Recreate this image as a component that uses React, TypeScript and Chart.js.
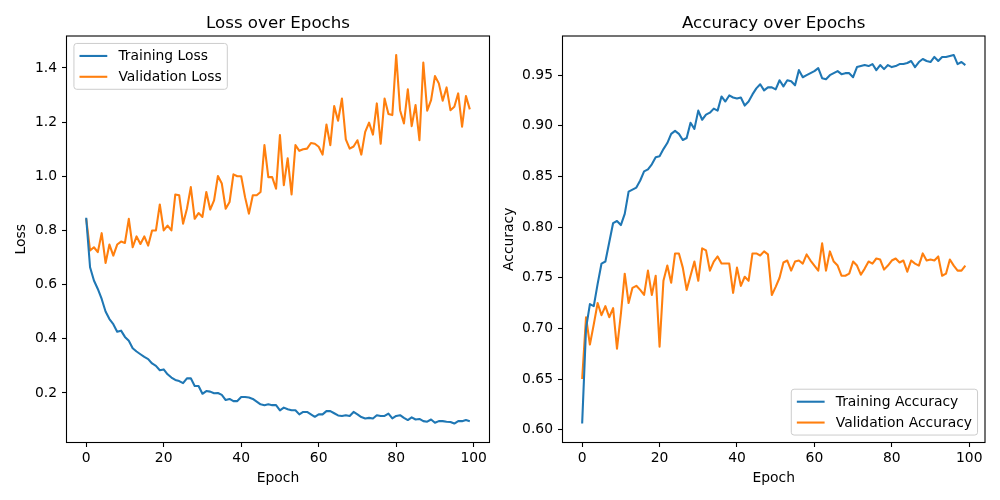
import React, { useEffect, useRef } from "react";
import { Chart, registerables } from "chart.js";

Chart.register(...registerables);

// ---------------- data ----------------
const epochs: number[] = Array.from({ length: 100 }, (_, i) => i);

const trainLoss: number[] = [
  0.847, 0.664, 0.615, 0.584, 0.547, 0.501, 0.473, 0.454, 0.426, 0.430,
  0.407, 0.393, 0.365, 0.353, 0.343, 0.333, 0.325, 0.309, 0.300, 0.284,
  0.287, 0.269, 0.257, 0.248, 0.244, 0.236, 0.254, 0.254, 0.226, 0.226,
  0.197, 0.207, 0.205, 0.199, 0.200, 0.193, 0.174, 0.178, 0.170, 0.170,
  0.185, 0.185, 0.183, 0.178, 0.168, 0.158, 0.155, 0.158, 0.155, 0.155,
  0.136, 0.146, 0.140, 0.136, 0.136, 0.121, 0.130, 0.130, 0.121, 0.112,
  0.121, 0.121, 0.133, 0.133, 0.125, 0.117, 0.115, 0.118, 0.115, 0.130,
  0.121, 0.111, 0.106, 0.108, 0.106, 0.118, 0.115, 0.115, 0.124, 0.106,
  0.115, 0.118, 0.108, 0.100, 0.110, 0.102, 0.104, 0.096, 0.094, 0.102,
  0.090, 0.096, 0.096, 0.094, 0.093, 0.087, 0.096, 0.096, 0.100, 0.096,
];

const valLoss: number[] = [
  0.844, 0.726, 0.738, 0.720, 0.790, 0.680, 0.748, 0.707, 0.748, 0.759,
  0.754, 0.843, 0.738, 0.778, 0.750, 0.778, 0.744, 0.800, 0.800, 0.896,
  0.800, 0.818, 0.800, 0.933, 0.930, 0.825, 0.880, 0.960, 0.843, 0.864,
  0.850, 0.942, 0.877, 0.911, 1.001, 0.973, 0.880, 0.905, 1.007, 1.000,
  1.000, 0.923, 0.862, 0.930, 0.930, 0.942, 1.115, 0.997, 0.997, 0.954,
  1.152, 0.967, 1.066, 0.933, 1.115, 1.094, 1.100, 1.102, 1.123, 1.120,
  1.109, 1.080, 1.191, 1.115, 1.259, 1.205, 1.287, 1.136, 1.102, 1.110,
  1.133, 1.080, 1.164, 1.198, 1.154, 1.269, 1.120, 1.287, 1.230, 1.226,
  1.448, 1.244, 1.195, 1.321, 1.185, 1.263, 1.133, 1.420, 1.242, 1.281,
  1.370, 1.343, 1.279, 1.328, 1.244, 1.257, 1.306, 1.183, 1.296, 1.247,
];

const trainAcc: number[] = [
  0.606, 0.700, 0.724, 0.722, 0.744, 0.764, 0.766, 0.785, 0.804, 0.806,
  0.802, 0.813, 0.835, 0.837, 0.839, 0.846, 0.855, 0.857, 0.862, 0.869,
  0.870, 0.877, 0.883, 0.892, 0.895, 0.892, 0.886, 0.888, 0.903, 0.897,
  0.915, 0.906, 0.911, 0.913, 0.917, 0.915, 0.929, 0.924, 0.930, 0.928,
  0.927, 0.928, 0.920, 0.924, 0.931, 0.937, 0.941, 0.935, 0.938, 0.938,
  0.936, 0.945, 0.939, 0.945, 0.944, 0.940, 0.955, 0.948, 0.950, 0.952,
  0.954, 0.957, 0.947, 0.946, 0.950, 0.952, 0.954, 0.951, 0.952, 0.952,
  0.948, 0.958, 0.959, 0.960, 0.959, 0.961, 0.955, 0.960, 0.956, 0.960,
  0.958, 0.959, 0.961, 0.961, 0.962, 0.964, 0.958, 0.963, 0.966, 0.964,
  0.963, 0.968, 0.964, 0.968, 0.968, 0.969, 0.970, 0.961, 0.963, 0.960,
];

const valAcc: number[] = [
  0.650, 0.711, 0.684, 0.704, 0.725, 0.713, 0.722, 0.711, 0.720, 0.680,
  0.714, 0.754, 0.725, 0.740, 0.742, 0.738, 0.733, 0.757, 0.733, 0.752,
  0.682, 0.747, 0.762, 0.745, 0.774, 0.774, 0.760, 0.738, 0.752, 0.766,
  0.747, 0.779, 0.777, 0.757, 0.766, 0.771, 0.764, 0.764, 0.764, 0.735,
  0.760, 0.742, 0.751, 0.747, 0.774, 0.774, 0.772, 0.776, 0.773, 0.733,
  0.741, 0.750, 0.765, 0.767, 0.757, 0.766, 0.767, 0.764, 0.773, 0.767,
  0.762, 0.757, 0.784, 0.757, 0.776, 0.766, 0.762, 0.752, 0.752, 0.754,
  0.766, 0.762, 0.753, 0.759, 0.766, 0.764, 0.769, 0.768, 0.758, 0.762,
  0.767, 0.769, 0.765, 0.767, 0.756, 0.767, 0.764, 0.762, 0.774, 0.767,
  0.768, 0.767, 0.771, 0.752, 0.754, 0.768, 0.762, 0.757, 0.757, 0.762,
];

const xTicks: number[] = [0, 20, 40, 60, 80, 100];
const lossTicks: number[] = [0.2, 0.4, 0.6, 0.8, 1.0, 1.2, 1.4];
const accTicks: number[] = [0.6, 0.65, 0.7, 0.75, 0.8, 0.85, 0.9, 0.95];

// ---------------- style ----------------
const FONT = "'DejaVu Sans', 'Liberation Sans', sans-serif";
const FS = 13.89;
const BLUE = "#1f77b4";
const ORANGE = "#ff7f0e";

Chart.defaults.font.family = FONT;
Chart.defaults.color = "#000";

function paddedRange(arrs: number[][]): [number, number] {
  let mn = Infinity;
  let mx = -Infinity;
  arrs.forEach((a) => a.forEach((v) => { if (v < mn) mn = v; if (v > mx) mx = v; }));
  const p = (mx - mn) * 0.05;
  return [mn - p, mx + p];
}

const framePlugin = {
  id: "mplFrame",
  afterDatasetsDraw(chart: any) {
    const { ctx, chartArea: a } = chart;
    ctx.save();
    ctx.strokeStyle = "#000";
    ctx.lineWidth = 1.1;
    ctx.strokeRect(a.left - 0.5, a.top - 0.5, a.right - a.left + 1, a.bottom - a.top + 1);
    ctx.restore();
  },
};

const legendPlugin = {
  id: "mplLegend",
  afterDraw(chart: any, _args: any, opts: any) {
    if (!opts || !opts.loc) return;
    const { ctx, chartArea: a } = chart;
    ctx.save();
    ctx.font = `${FS}px ${FONT}`;
    const items = chart.data.datasets.map((d: any) => ({ label: d.label, color: d.borderColor }));
    const textW = Math.max(...items.map((i: any) => ctx.measureText(i.label).width));
    const pad = 0.4 * FS, hl = 2 * FS, htp = 0.8 * FS, ls = 0.5 * FS, bap = 0.5 * FS;
    const rowH = FS;
    const w = 2 * pad + hl + htp + textW;
    const h = 2 * pad + items.length * rowH + (items.length - 1) * ls;
    const x = opts.loc.includes("left") ? a.left + bap : a.right - bap - w;
    const y = opts.loc.includes("upper") ? a.top + bap : a.bottom - bap - h;
    ctx.beginPath();
    if ((ctx as any).roundRect) (ctx as any).roundRect(x, y, w, h, 0.2 * FS);
    else ctx.rect(x, y, w, h);
    ctx.fillStyle = "rgba(255,255,255,0.8)";
    ctx.fill();
    ctx.strokeStyle = "#cccccc";
    ctx.lineWidth = 1;
    ctx.stroke();
    items.forEach((it: any, i: number) => {
      const cy = y + pad + rowH / 2 + i * (rowH + ls);
      ctx.beginPath();
      ctx.moveTo(x + pad, cy);
      ctx.lineTo(x + pad + hl, cy);
      ctx.strokeStyle = it.color;
      ctx.lineWidth = 2.08;
      ctx.stroke();
      ctx.fillStyle = "#000";
      ctx.textBaseline = "middle";
      ctx.textAlign = "left";
      ctx.fillText(it.label, x + pad + hl + htp, cy + 0.5);
    });
    ctx.restore();
  },
};

interface PanelSpec {
  title: string;
  yLabel: string;
  labels: string[];
  series: number[][];
  yTicks: number[];
  decimals: number;
  legendLoc: string;
  yAxisWidth: number;
  yTitlePad: number;
  padRight: number;
}

function makeConfig(s: PanelSpec): any {
  const [ymin, ymax] = paddedRange(s.series);
  const [xmin, xmax] = paddedRange([epochs]);
  const colors = [BLUE, ORANGE];
  const tickFont = { family: FONT, size: FS };
  return {
    type: "line",
    data: {
      datasets: s.series.map((arr, i) => ({
        label: s.labels[i],
        data: arr.map((v, j) => ({ x: epochs[j], y: v })),
        borderColor: colors[i],
        backgroundColor: colors[i],
        borderWidth: 2.08,
        pointRadius: 0,
        pointHoverRadius: 0,
        tension: 0,
        fill: false,
        borderJoinStyle: "round",
      })),
    },
    options: {
      responsive: false,
      animation: false,
      devicePixelRatio: 1,
      events: [],
      layout: { padding: { left: 0, right: s.padRight, top: 0, bottom: 0 } },
      plugins: {
        legend: { display: false },
        tooltip: { enabled: false },
        title: {
          display: true,
          text: s.title,
          fullSize: false,
          color: "#000",
          font: { family: FONT, size: 16.67, weight: "normal", lineHeight: 1.2 },
          padding: { top: 13.5, bottom: 3 },
        },
        mplLegend: { loc: s.legendLoc },
      },
      scales: {
        x: {
          type: "linear",
          min: xmin,
          max: xmax,
          afterBuildTicks: (sc: any) => { sc.ticks = xTicks.map((v) => ({ value: v })); },
          afterFit: (sc: any) => { sc.height = 58; },
          grid: { drawOnChartArea: false, drawTicks: true, tickLength: 5, tickWidth: 1.1, tickColor: "#000", color: "#000" },
          border: { display: false },
          ticks: { color: "#000", font: tickFont, padding: 3.5, maxRotation: 0, autoSkip: false, callback: (v: any) => String(v) },
          title: { display: true, text: "Epoch", color: "#000", font: tickFont, padding: { top: 0, bottom: 13.5 } },
        },
        y: {
          type: "linear",
          min: ymin,
          max: ymax,
          afterBuildTicks: (sc: any) => { sc.ticks = s.yTicks.map((v) => ({ value: v })); },
          afterFit: (sc: any) => { sc.width = s.yAxisWidth; },
          grid: { drawOnChartArea: false, drawTicks: true, tickLength: 5, tickWidth: 1.1, tickColor: "#000", color: "#000" },
          border: { display: false },
          ticks: { color: "#000", font: tickFont, padding: 5, autoSkip: false, callback: (v: any) => Number(v).toFixed(s.decimals) },
          title: { display: true, text: s.yLabel, color: "#000", font: tickFont, padding: { top: s.yTitlePad, bottom: 0 } },
        },
      },
    },
    plugins: [framePlugin, legendPlugin],
  };
}

function Panel({ spec, left }: { spec: PanelSpec; left: number }) {
  const ref = useRef<HTMLCanvasElement | null>(null);
  useEffect(() => {
    if (!ref.current) return;
    const chart = new Chart(ref.current, makeConfig(spec));
    return () => chart.destroy();
  }, []);
  return (
    <canvas
      ref={ref}
      width={500}
      height={500}
      style={{ position: "absolute", left, top: 0, width: 500, height: 500 }}
    />
  );
}

const lossSpec: PanelSpec = {
  title: "Loss over Epochs",
  yLabel: "Loss",
  labels: ["Training Loss", "Validation Loss"],
  series: [trainLoss, valLoss],
  yTicks: lossTicks,
  decimals: 1,
  legendLoc: "upper left",
  yAxisWidth: 67,
  yTitlePad: 13.5,
  padRight: 11,
};

const accSpec: PanelSpec = {
  title: "Accuracy over Epochs",
  yLabel: "Accuracy",
  labels: ["Training Accuracy", "Validation Accuracy"],
  series: [trainAcc, valAcc],
  yTicks: accTicks,
  decimals: 2,
  legendLoc: "lower right",
  yAxisWidth: 63,
  yTitlePad: 1,
  padRight: 15.5,
};

export default function App() {
  return (
    <div style={{ position: "absolute", left: 0, top: 0, width: 1000, height: 500, background: "#fff" }}>
      <Panel spec={lossSpec} left={0} />
      <Panel spec={accSpec} left={500} />
    </div>
  );
}
